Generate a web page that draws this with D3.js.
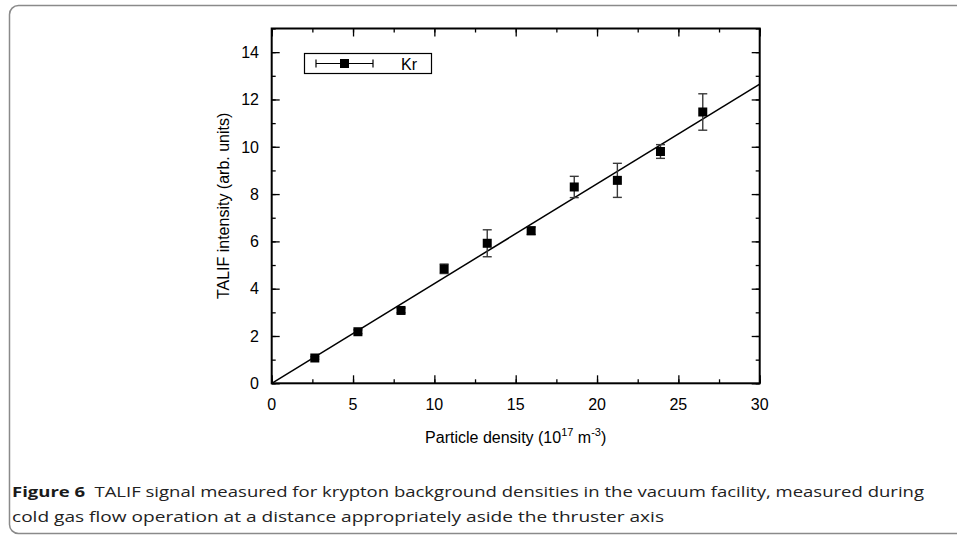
<!DOCTYPE html>
<html>
<head>
<meta charset="utf-8">
<script src="https://cdn.jsdelivr.net/npm/d3@7"></script>
<style>
  body { margin: 0; background: #fff; }
  svg text { font-family: "Liberation Sans", Arial, sans-serif; }
</style>
</head>
<body>
<svg id="chart" width="957" height="539"></svg>
<script>
// Kr TALIF data
var density = [2.65, 5.3, 7.95, 10.6, 13.25, 15.95, 18.6, 21.25, 23.9, 26.5];
var signal  = [1.07, 2.18, 3.08, 4.84, 5.92, 6.45, 8.3, 8.58, 9.8, 11.47];
var sigErr  = [0.05, 0.08, 0.1, 0.2, 0.57, 0.16, 0.45, 0.72, 0.29, 0.77];
var fitSlope = 0.4215;
var xTicks = [0, 5, 10, 15, 20, 25, 30];
var yTicks = [0, 2, 4, 6, 8, 10, 12, 14];

var svg = d3.select("#chart");

// figure frame
svg.append("rect")
  .attr("x", 9.5).attr("y", 5.5)
  .attr("width", 980).attr("height", 528)
  .attr("rx", 9).attr("ry", 9)
  .style("fill", "none")
  .style("stroke", "#8a8a8a")
  .style("stroke-width", 1.5);

var pLeft = 271.7, pRight = 759.7, pTop = 28.5, pBottom = 383.3;

var x = d3.scaleLinear().domain([0, 30]).range([pLeft, pRight]);
var y = d3.scaleLinear().domain([0, 15]).range([pBottom, pTop]);

var g = svg.append("g");

// ticks, all pointing inward
var minorX = d3.range(0, 30.1, 2.5), minorY = d3.range(0, 15.1, 1);

[[d3.axisTop, y(0), 4, minorX], [d3.axisTop, y(0), 8, xTicks],
 [d3.axisBottom, y(15), 4, minorX], [d3.axisBottom, y(15), 8, xTicks]]
  .forEach(function(t) {
    g.append("g")
      .attr("transform", "translate(0," + t[1] + ")")
      .call(t[0](x).tickValues(t[3]).tickSize(t[2]).tickFormat(""))
      .call(function(s) { s.select(".domain").remove(); s.selectAll("line").style("stroke-width", 1.3); });
  });

[[d3.axisRight, x(0), 4, minorY], [d3.axisRight, x(0), 8, yTicks],
 [d3.axisLeft, x(30), 4, minorY], [d3.axisLeft, x(30), 8, yTicks]]
  .forEach(function(t) {
    g.append("g")
      .attr("transform", "translate(" + t[1] + ",0)")
      .call(t[0](y).tickValues(t[3]).tickSize(t[2]).tickFormat(""))
      .call(function(s) { s.select(".domain").remove(); s.selectAll("line").style("stroke-width", 1.3); });
  });

// tick labels
g.selectAll(".xlab")
  .data(xTicks)
  .enter().append("text")
  .attr("x", function(d) { return x(d); })
  .attr("y", 410)
  .attr("text-anchor", "middle")
  .style("font-size", "16px")
  .text(function(d) { return d; });

g.selectAll(".ylab")
  .data(yTicks)
  .enter().append("text")
  .attr("x", 259)
  .attr("y", function(d) { return y(d); })
  .attr("dy", "0.36em")
  .attr("text-anchor", "end")
  .style("font-size", "16px")
  .text(function(d) { return d; });

// frame
g.append("rect")
  .attr("x", pLeft).attr("y", pTop)
  .attr("width", pRight - pLeft).attr("height", pBottom - pTop)
  .style("fill", "none")
  .style("stroke", "#000")
  .style("stroke-width", 2);

// fit line
g.append("line")
  .attr("x1", x(0)).attr("y1", y(0))
  .attr("x2", x(30)).attr("y2", y(30 * fitSlope))
  .style("stroke", "#000")
  .style("stroke-width", 1.5);

// error bars
var pts = density.map(function(d, i) { return {x: d, y: signal[i], e: sigErr[i]}; });
var eb = g.append("g").style("stroke", "#3a3a3a").style("stroke-width", 1.4);
eb.selectAll(".v").data(pts).enter().append("line")
  .attr("x1", function(d) { return x(d.x); }).attr("x2", function(d) { return x(d.x); })
  .attr("y1", function(d) { return y(d.y - d.e); }).attr("y2", function(d) { return y(d.y + d.e); });
[-1, 1].forEach(function(s) {
  eb.selectAll(".c" + s).data(pts).enter().append("line")
    .attr("x1", function(d) { return x(d.x) - 4.5; }).attr("x2", function(d) { return x(d.x) + 4.5; })
    .attr("y1", function(d) { return y(d.y + s * d.e); }).attr("y2", function(d) { return y(d.y + s * d.e); });
});

// markers
g.selectAll(".pt").data(pts).enter().append("rect")
  .attr("x", function(d) { return x(d.x) - 4.5; })
  .attr("y", function(d) { return y(d.y) - 4.5; })
  .attr("width", 9).attr("height", 9)
  .style("fill", "#000");

// legend
var lg = g.append("g");
lg.append("rect")
  .attr("x", 304.5).attr("y", 53.5).attr("width", 127).attr("height", 20)
  .style("fill", "#fff").style("stroke", "#000").style("stroke-width", 1.2);
lg.append("line").attr("x1", 316).attr("x2", 373).attr("y1", 63.5).attr("y2", 63.5)
  .style("stroke", "#000").style("stroke-width", 1.2);
[316, 373].forEach(function(cx) {
  lg.append("line").attr("x1", cx).attr("x2", cx).attr("y1", 59.5).attr("y2", 67.5)
    .style("stroke", "#000").style("stroke-width", 1.2);
});
lg.append("rect").attr("x", 340).attr("y", 59).attr("width", 9).attr("height", 9).style("fill", "#000");
lg.append("text").attr("x", 401).attr("y", 69.5).style("font-size", "16px").text("Kr");

// axis titles
var xt = svg.append("text")
  .attr("x", (pLeft + pRight) / 2).attr("y", 443)
  .attr("text-anchor", "middle")
  .style("font-size", "16px");
xt.append("tspan").text("Particle density (10");
xt.append("tspan").attr("dy", -7).style("font-size", "11px").text("17");
xt.append("tspan").attr("dy", 7).text(" m");
xt.append("tspan").attr("dy", -7).style("font-size", "11px").text("-3");
xt.append("tspan").attr("dy", 7).text(")");

svg.append("text")
  .attr("transform", "translate(229," + (pTop + pBottom) / 2 + ") rotate(-90)")
  .attr("text-anchor", "middle")
  .style("font-size", "16px")
  .text("TALIF intensity (arb. units)");

// caption
var cap = svg.append("g").style("font-size", "15px").style("fill", "#222");
var l1 = cap.append("text").attr("x", 12).attr("y", 497)
  .style("font-family", "'Open Sans', sans-serif")
  .attr("textLength", 912).attr("lengthAdjust", "spacingAndGlyphs");
l1.append("tspan").style("font-weight", "bold").style("fill", "#1a1a1a").text("Figure 6");
l1.append("tspan").text("\u2002TALIF signal measured for krypton background densities in the vacuum facility, measured during");
cap.append("text").attr("x", 12).attr("y", 522)
  .style("font-family", "'Open Sans', sans-serif")
  .attr("textLength", 652).attr("lengthAdjust", "spacingAndGlyphs")
  .text("cold gas flow operation at a distance appropriately aside the thruster axis");
</script>
</body>
</html>
